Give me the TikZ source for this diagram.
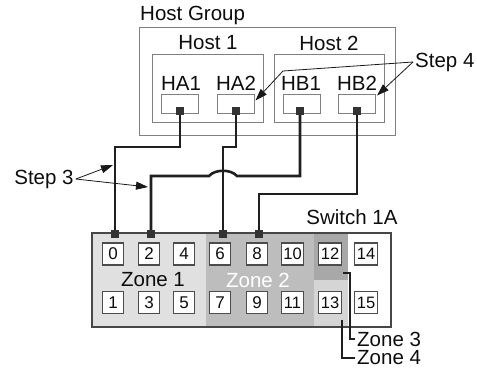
\documentclass[tikz,border=0pt]{standalone}
\usepackage{fontspec}
\setmainfont{Liberation Sans}
\usetikzlibrary{positioning,arrows.meta,calc}

\definecolor{zoneone}{HTML}{E0E0E0}
\definecolor{zonetwo}{HTML}{BDBDBD}
\definecolor{zonethree}{HTML}{A8A8A8}
\definecolor{zonefour}{HTML}{D5D5D5}

\begin{document}
\begin{tikzpicture}[x=1pt, y=-1pt,
  lbl/.style={font=\fontsize{20.5}{22}\selectfont, text=black!95, inner sep=2pt},
  boxline/.style={draw=black!50, line width=1pt},
  hport/.style={rectangle, draw=black!50, line width=1pt, minimum width=37pt, minimum height=19pt, inner sep=0pt},
  plug/.style={rectangle, fill=black!80, minimum size=7.5pt, inner sep=0pt},
  cable/.style={draw=black!88, line width=2.6pt},
  swport/.style={rectangle, draw=black!70, line width=1.3pt, fill=white, minimum width=21pt, minimum height=22pt, inner sep=0pt, font=\fontsize{17}{19}\selectfont, text=black!95},
  wideport/.style={swport, minimum width=22.5pt, font=\fontsize{16.5}{19}\selectfont},
  steparrow/.style={draw=black!90, line width=0.8pt, -{Triangle[length=12pt,width=8pt]}},
  leader/.style={draw=black!88, line width=1.8pt}
]
\useasboundingbox (0,0) rectangle (477,373);

% --- host group with two hosts ---
\node[lbl, anchor=west] (grplbl) at (138,15) {Host Group};
\draw[boxline] (139,27) rectangle (395,135);
\draw[boxline] (152,54) rectangle (263,122);
\draw[boxline] (274,54) rectangle (384,122);
\node[lbl] (host1) at (208,43) {Host 1};
\node[lbl] (host2) at (329,43) {Host 2};

% --- host adapter ports ---
\node[hport] (ha1) at (180,103.5) {};
\node[hport] (ha2) at (235.5,103.5) {};
\node[hport] (hb1) at (301.5,103.5) {};
\node[hport] (hb2) at (357,103.5) {};
\node[lbl] (ha1lbl) at (181,83) {HA1};
\node[lbl] (ha2lbl) at (236,83) {HA2};
\node[lbl] (hb1lbl) at (301,83) {HB1};
\node[lbl] (hb2lbl) at (357,83) {HB2};

% --- switch 1A and its zones ---
\fill[zoneone] (92,233) rectangle (206,327);
\fill[zonetwo] (206,233) rectangle (314,327);
\fill[zonethree] (314,233) rectangle (348,280);
\fill[zonefour] (314,280) rectangle (348,327);
\draw[draw=black!72, line width=2.6pt] (92,233) rectangle (391,327);
\node[lbl] (swlbl) at (352,217) {Switch 1A};
\node[lbl] (zone1) at (153,280) {Zone 1};
\node[lbl, text=white] (zone2) at (258,280) {Zone 2};

% --- switch ports, even on top, odd below ---
\node[swport] (p0)  at (113,254) {0};
\node[swport] (p2)  at (149,254) {2};
\node[swport] (p4)  at (184,254) {4};
\node[swport] (p6)  at (220,254) {6};
\node[swport] (p8)  at (257,254) {8};
\node[wideport] (p10) at (292.5,254) {10};
\node[wideport] (p12) at (330,254) {12};
\node[wideport] (p14) at (366,254) {14};
\node[swport] (p1)  at (113,302.5) {1};
\node[swport] (p3)  at (149,302.5) {3};
\node[swport] (p5)  at (184,302.5) {5};
\node[swport] (p7)  at (220,302.5) {7};
\node[swport] (p9)  at (257,302.5) {9};
\node[wideport] (p11) at (292.5,302.5) {11};
\node[wideport] (p13) at (330,302.5) {13};
\node[wideport] (p15) at (366,302.5) {15};

% --- cable plugs ---
\node[plug] (ha1c) at (180,111) {};
\node[plug] (ha2c) at (236,111) {};
\node[plug] (hb1c) at (300,111) {};
\node[plug] (hb2c) at (357,111) {};
\node[plug] (s0c) at (115,234) {};
\node[plug] (s2c) at (151,234) {};
\node[plug] (s6c) at (223,234) {};
\node[plug] (s8c) at (259,234) {};

% --- cables (HB1 hops over the HA2 cable) ---
\draw[cable] (ha1c) -- ++(0,36) -| (s0c);
\draw[cable] (ha2c) -- ++(0,36) -| (s6c);
\draw[cable] (hb1c) -- ++(0,65) -- (237,176) .. controls (231,169) and (215,169) .. (209,176) -| (s2c);
\draw[cable] (hb2c) -- ++(0,83) -| (s8c);

% --- step callouts ---
\node[lbl] (step3) at (44,179) {Step 3};
\coordinate (s3a) at (113,165);
\coordinate (s3b) at (148,187);
\draw[steparrow] (step3.east) -- (s3a);
\draw[steparrow] (step3.east) -- (s3b);

\node[lbl, anchor=west] (step4) at (413,62) {Step 4};
\draw[steparrow] (step4.west) -- (283,71) -- ($(ha2.east)+(1,-3)$);
\draw[steparrow] (step4.west) -- ($(hb2.east)+(1,-8)$);

% --- zone leaders ---
\node[lbl, anchor=west] (zone3) at (355,339) {Zone 3};
\node[lbl, anchor=west] (zone4) at (355,358) {Zone 4};
\coordinate (z3a) at (343,273);
\coordinate (z4a) at (342,320);
\draw[leader] (z3a) -- (350,273) |- (zone3.west);
\draw[leader] (z4a) |- (zone4.west);

\end{tikzpicture}
\end{document}
